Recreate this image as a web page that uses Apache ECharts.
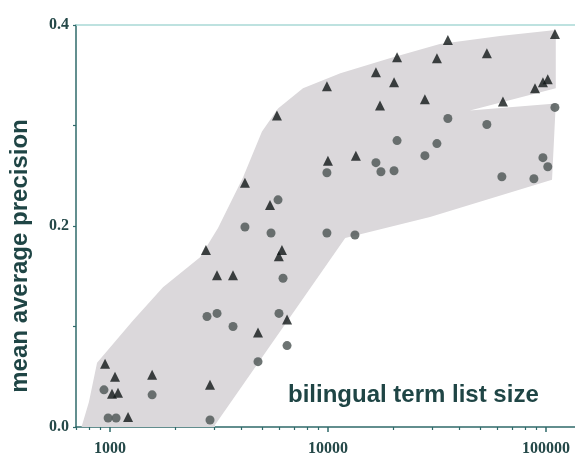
<!DOCTYPE html>
<html><head><meta charset="utf-8">
<script src="https://cdn.jsdelivr.net/npm/echarts/dist/echarts.min.js"></script>
<style>html,body{margin:0;padding:0;background:#fff}#c{width:575px;height:457px}</style>
</head><body><div id="c"></div>
<script>
// triangle series (upper)
const triX = [949,1054,1021,1088,1210,1560,2755,2876,3097,3667,4160,4775,5420,5834,6150,5950,6490,9890,10000,13430,16600,17330,20100,20750,27850,31620,35500,53600,63500,89100,96900,102000,110000];
const triY = [0.063,0.050,0.033,0.034,0.010,0.052,0.176,0.042,0.151,0.151,0.243,0.094,0.221,0.310,0.176,0.170,0.107,0.339,0.265,0.270,0.353,0.320,0.343,0.368,0.326,0.367,0.385,0.372,0.324,0.337,0.343,0.346,0.391];
// circle series (lower)
const cirX = [938,980,1066,1560,2786,3097,2876,3667,4160,4775,5480,5900,6220,5960,6490,9890,9890,13300,16600,17500,20100,20750,27850,31620,35500,53600,62800,88100,96900,102000,110000];
const cirY = [0.037,0.009,0.009,0.032,0.110,0.113,0.007,0.100,0.199,0.065,0.193,0.226,0.148,0.113,0.081,0.253,0.193,0.191,0.263,0.254,0.255,0.285,0.270,0.282,0.307,0.301,0.249,0.247,0.268,0.259,0.318];
// shaded band outline
const bandX = [740,800,872,1275,1750,2590,3130,4070,4980,5900,7680,11400,19200,32600,61500,111000,111000,44800,111000,106700,29400,12000,3030,3030];
const bandY = [0.000,0.025,0.064,0.106,0.139,0.169,0.198,0.248,0.294,0.317,0.337,0.352,0.367,0.381,0.389,0.395,0.337,0.315,0.322,0.246,0.209,0.188,0.002,0.000];
// axis ticks
const xMajorTicks = [1000,10000,100000];
const xMinorTicks = [700,800,900,2000,3000,4000,5000,6000,7000,8000,9000,20000,30000,40000,50000,60000,70000,80000,90000];
const yLabels = ['0.0','','0.2','','0.4'];

const xMin = 698, xMax = 136000;
const teal = '#2f6a6a';
const serif = 'Liberation Serif';

const chart = echarts.init(document.getElementById('c'));
const baseX = {type:'log', logBase:10, min:xMin, max:xMax, splitLine:{show:false}};
chart.setOption({
  animation:false,
  backgroundColor:'#ffffff',
  grid:{left:76, right:0, top:25, bottom:30},
  xAxis:[
    Object.assign({}, baseX, {position:'bottom',
      axisLine:{show:true, lineStyle:{color:teal, width:1.5}},
      axisTick:{show:true, customValues:xMajorTicks, length:5, lineStyle:{color:teal, width:1.5}},
      axisLabel:{show:true, customValues:xMajorTicks, formatter:v=>String(Math.round(v)), fontFamily:serif, fontWeight:'bold', fontSize:16, color:'#244848', margin:14}}),
    Object.assign({}, baseX, {position:'bottom',
      axisLine:{show:false},
      axisTick:{show:true, customValues:xMinorTicks, length:3, lineStyle:{color:teal, width:1.2}},
      axisLabel:{show:false}}),
    Object.assign({}, baseX, {position:'top',
      axisLine:{show:true, lineStyle:{color:'#a9d9d6', width:1.5}},
      axisTick:{show:false}, axisLabel:{show:false}})
  ],
  yAxis:{type:'value', min:0, max:0.4, interval:0.1,
    axisLine:{show:true, lineStyle:{color:teal, width:1.5}},
    axisTick:{show:true, length:3, lineStyle:{color:teal, width:1.2}},
    splitLine:{show:false},
    axisLabel:{formatter:(v)=>yLabels[Math.round(v*10)], fontFamily:serif, fontWeight:'bold', fontSize:16, color:'#244848', margin:7, verticalAlign:'middle', padding:[0,0,8,0]}},
  graphic:[
    {type:'text', x:20, y:256, rotation:Math.PI/2, z:10,
      style:{text:'mean average precision', font:'bold 24px "Liberation Sans"', fill:'#1f4545', align:'center', verticalAlign:'middle'}},
    {type:'text', x:288, y:395, z:10,
      style:{text:'bilingual term list size', font:'bold 24px "Liberation Sans"', fill:'#1f4545', align:'left', verticalAlign:'middle'}}
  ],
  series:[
    {type:'custom', xAxisIndex:0, z:1, silent:true,
      data: bandX.map((x,i)=>[x, bandY[i]]),
      renderItem:(params, api)=>{
        if (params.dataIndex !== 0) return null;
        const pts = bandX.map((x,i)=>api.coord([x, bandY[i]]));
        return {type:'polygon', shape:{points:pts}, style:{fill:'#dbd8db', stroke:null}};
      }},
    {type:'scatter', xAxisIndex:0, z:3, symbol:'circle', symbolSize:9,
      itemStyle:{color:'#545c5b', opacity:0.85},
      data: cirX.map((x,i)=>[x, cirY[i]])},
    {type:'scatter', xAxisIndex:0, z:4, symbol:'triangle', symbolSize:10,
      itemStyle:{color:'#101616'},
      data: triX.map((x,i)=>[x, triY[i]])}
  ]
});
</script>
</body></html>
